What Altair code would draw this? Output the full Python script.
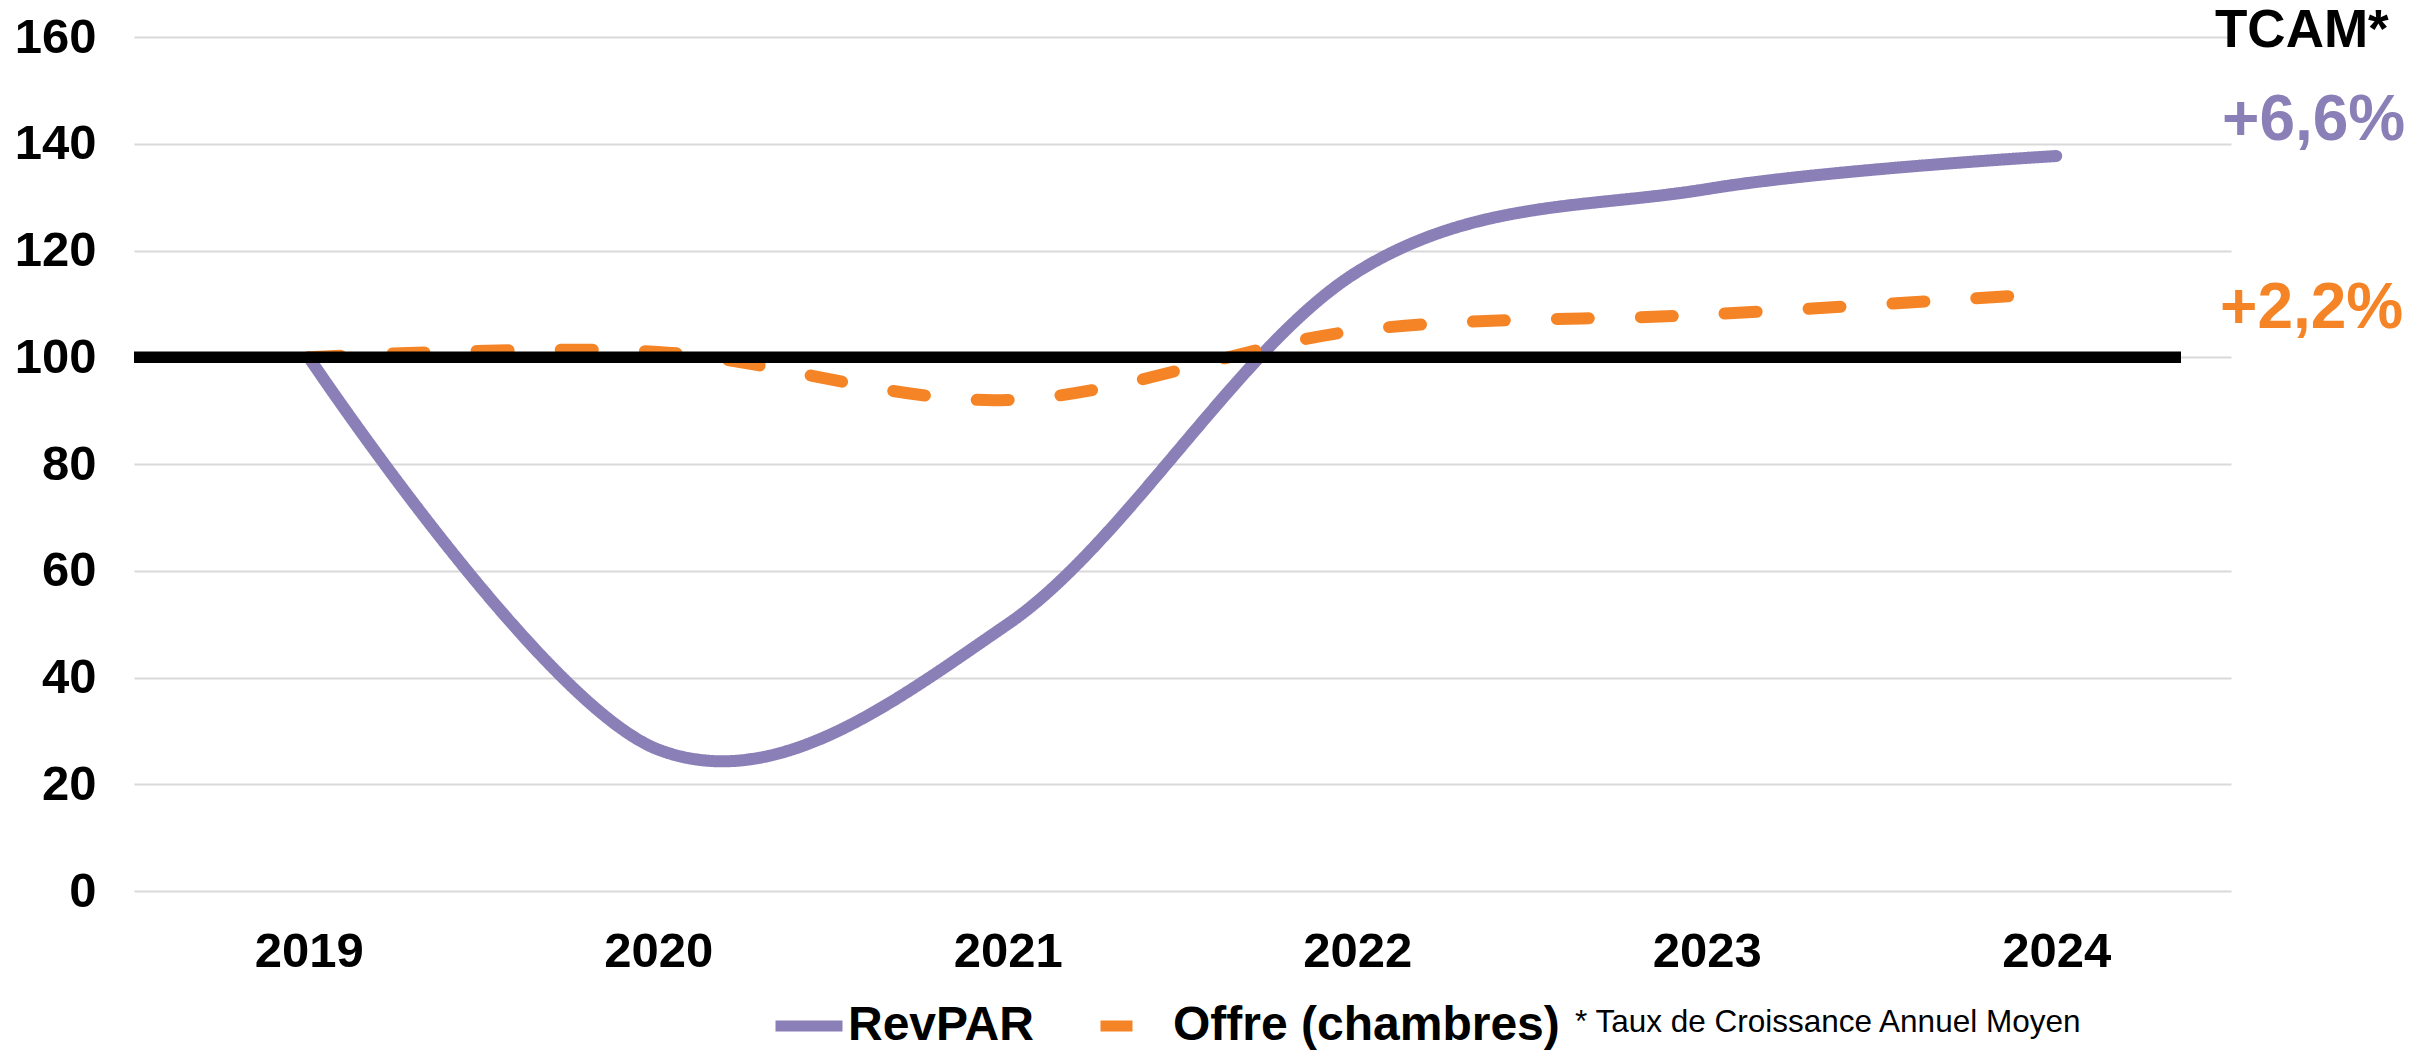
import altair as alt
import pandas as pd

# Index base 100 = 2019
years = [2019, 2020, 2021, 2022, 2023, 2024]
revpar = [100, 26.5, 50, 116, 131.5, 137.7]
offre = [100, 101, 92, 105, 108, 112]

series_names = ["RevPAR", "Offre (chambres)"]
series_colors = ["#8A80B7", "#F58426"]
y_ticks = [0, 20, 40, 60, 80, 100, 120, 140, 160]
base_index = 100

tcam_title = "TCAM*"
tcam_labels = ["+6,6%", "+2,2%"]
footnote = "* Taux de Croissance Annuel Moyen"

FONT = "Liberation Sans"
W, H = 2097, 854

df = pd.DataFrame({
    "year": years + years,
    "value": revpar + offre,
    "serie": [series_names[0]] * len(years) + [series_names[1]] * len(years),
})

x_scale = alt.Scale(domain=[2018.5, 2024.5], nice=False, zero=False)
y_scale = alt.Scale(domain=[0, 160], nice=False)

legend = alt.Legend(
    title=None, orient="none", legendX=636, legendY=950, direction="horizontal",
    symbolType="stroke", symbolSize=4489, symbolStrokeWidth=11,
    labelFont=FONT, labelFontSize=48, labelFontWeight="bold", labelColor="black",
    labelLimit=1000, columnPadding=44, labelOffset=0, padding=0, rowPadding=0,
)

lines = alt.Chart(df).mark_line(
    interpolate="cardinal", strokeWidth=12, strokeCap="round"
).encode(
    x=alt.X("year:Q", scale=x_scale,
            axis=alt.Axis(values=years, format="d", title=None, grid=False,
                          domain=False, ticks=False, labelPadding=36)),
    y=alt.Y("value:Q", scale=y_scale,
            axis=alt.Axis(values=y_ticks, title=None, domain=False, ticks=False,
                          gridColor="#D9D9D9", gridWidth=2, labelPadding=38)),
    color=alt.Color("serie:N", sort=series_names,
                    scale=alt.Scale(domain=series_names, range=series_colors),
                    legend=legend),
    strokeDash=alt.StrokeDash("serie:N", sort=series_names,
                              scale=alt.Scale(domain=series_names, range=[[1, 0], [32, 52]]),
                              legend=legend),
)

# thick reference line at the base index
base = alt.Chart(pd.DataFrame({"base": [base_index]})).mark_rule(
    color="black", strokeWidth=11.7
).encode(
    y=alt.Y("base:Q", scale=y_scale),
    x=alt.value(0), x2=alt.value(2047),
)

title_txt = alt.Chart(pd.DataFrame({"t": [tcam_title]})).mark_text(
    font=FONT, fontSize=53, fontWeight="bold", color="black", align="left", baseline="alphabetic"
).encode(text="t:N", x=alt.value(2081), y=alt.value(10))

tcam_df = pd.DataFrame({"t": tcam_labels, "serie": series_names})
tcam_rev = alt.Chart(tcam_df.iloc[[0]]).mark_text(
    font=FONT, fontSize=64, fontWeight="bold", color=series_colors[0], align="left", baseline="alphabetic"
).encode(text="t:N", x=alt.value(2088), y=alt.value(103))
tcam_off = alt.Chart(tcam_df.iloc[[1]]).mark_text(
    font=FONT, fontSize=64, fontWeight="bold", color=series_colors[1], align="left", baseline="alphabetic"
).encode(text="t:N", x=alt.value(2086), y=alt.value(291))

note = alt.Chart(pd.DataFrame({"t": [footnote]})).mark_text(
    font=FONT, fontSize=31.5, color="black", align="left", baseline="alphabetic"
).encode(text="t:N", x=alt.value(1441), y=alt.value(995))

chart = alt.layer(lines, base, title_txt, tcam_rev, tcam_off, note).properties(
    width=W, height=H,
    autosize=alt.AutoSizeParams(type="none"),
    padding={"left": 134, "top": 37, "right": 186, "bottom": 160},
).configure_view(stroke=None).configure_axis(
    labelFont=FONT, labelFontSize=49, labelFontWeight="bold", labelColor="black"
)

chart.save("out.html", embed_options={"renderer": "svg", "actions": False})
